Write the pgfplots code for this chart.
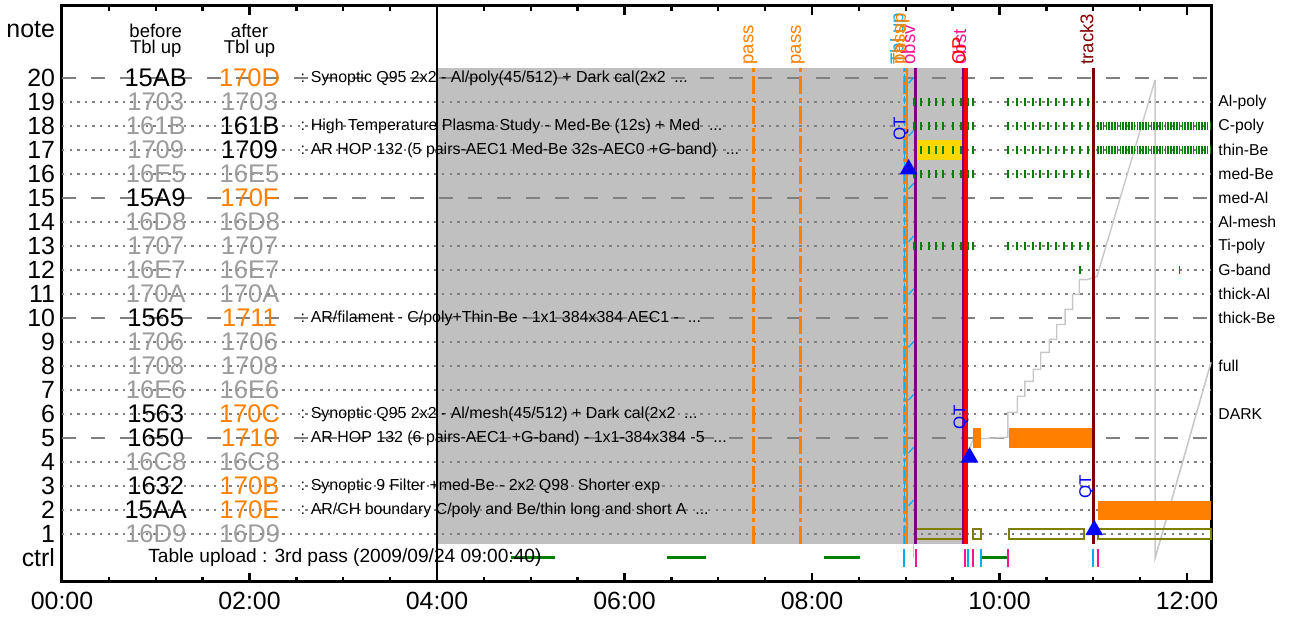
\documentclass[border=0pt]{standalone}
\usepackage{pgfplots}
\pgfplotsset{compat=1.18}
\usepackage{fontspec}
\setmainfont{Liberation Sans}
\definecolor{cOr}{RGB}{255,128,0}
\definecolor{cGr}{RGB}{155,155,155}
\definecolor{cGrid}{RGB}{128,128,128}
\definecolor{cShade}{RGB}{192,192,192}
\definecolor{cGreen}{RGB}{0,128,0}
\definecolor{cPink}{RGB}{255,20,147}
\definecolor{cPurple}{RGB}{128,0,128}
\definecolor{cMaroon}{RGB}{128,0,0}
\definecolor{cOlive}{RGB}{128,128,0}
\definecolor{cYellow}{RGB}{255,215,0}
\definecolor{cLight}{RGB}{200,200,200}
\definecolor{cBlue}{RGB}{0,0,255}

\tikzset{
  code/.style={font=\fontsize{12.8}{14}\selectfont, anchor=center, inner sep=0pt},
  desc/.style={font=\fontsize{8.0}{9}\selectfont, anchor=west, inner sep=0pt},
  rlab/.style={font=\fontsize{7.9}{9}\selectfont, anchor=west, inner sep=0pt},
  toplab/.style={font=\fontsize{9.3}{10}\selectfont, rotate=90, anchor=base west, inner sep=0pt},
  qt/.style={font=\fontsize{8.5}{10}\selectfont, rotate=90, anchor=center, inner sep=0pt, text=cBlue},
}
\pgfplotsset{gtick/.style={only marks, mark=|, mark size=1.8bp, cGreen, mark options={line width=0.8bp}}}

\begin{document}
\begin{tikzpicture}
\begin{axis}[
  scale only axis, width=574.5bp, height=288bp,
  xmin=0, xmax=12.256, ymin=-1, ymax=23,
  axis line style={line width=1.5bp},
  xtick={0,2,4,6,8,10,12},
  xticklabels={00:00,02:00,04:00,06:00,08:00,10:00,12:00},
  minor x tick num=3,
  tick align=inside, xtick pos=both,
  major tick length=4.5bp, minor tick length=2.5bp,
  every tick/.style={black, line width=1.2bp},
  ytick={0,1,2,3,4,5,6,7,8,9,10,11,12,13,14,15,16,17,18,19,20,22},
  yticklabels={ctrl,1,2,3,4,5,6,7,8,9,10,11,12,13,14,15,16,17,18,19,20,note},
  ytick style={draw=none},
  ticklabel style={font=\fontsize{12.5}{14}\selectfont},
  xticklabel style={yshift=-1.5bp},
  clip=false,
]
\coordinate (BL) at (rel axis cs:0,0);
\coordinate (TR) at (rel axis cs:1,1);

% shaded (past) region
\addplot[fill=cShade, draw=none] coordinates {(4,0.58) (9.635,0.58) (9.635,20.42) (4,20.42)} -- cycle;

% grid
\pgfplotsinvokeforeach{5,10,15,20}{
  \draw[cGrid, line width=0.75bp, dash pattern=on 7bp off 7.5bp] (axis cs:0,#1) -- (axis cs:12.256,#1);
}
\pgfplotsinvokeforeach{1,2,3,4,6,7,8,9,11,12,13,14,16,17,18,19}{
  \draw[cGrid, line width=0.75bp, dash pattern=on 1.2bp off 2.6bp] (axis cs:0,#1) -- (axis cs:12.256,#1);
}

% 04:00 divider
\addplot[black, line width=1bp] coordinates {(4,-1) (4,23)};

% light gray fill-level line
\addplot[cLight, line width=0.6bp] coordinates {(9.08,0.0) (9.08,0.58)};
\addplot[cLight, line width=0.7bp] coordinates {
(9.653,4.24) (9.717,4.95) (10.09,5.03) (10.09,6.07) (10.19,6.07) (10.19,6.74) (10.27,6.74)
(10.27,7.36) (10.36,7.36) (10.36,7.86) (10.44,7.86) (10.44,8.57) (10.53,8.57) (10.53,9.11)
(10.61,9.11) (10.61,9.73) (10.70,9.73) (10.70,10.36) (10.78,10.36) (10.78,10.98) (10.85,10.98)
(10.85,11.60) (10.94,11.60) (11.04,11.73) (11.66,19.92)};
\addplot[cLight, line width=0.8bp] coordinates {(11.66,19.92) (11.66,0.0) (12.256,8.15)};

% yellow block
\addplot[fill=cYellow, draw=none] coordinates {(9.11,16.6) (9.65,16.6) (9.65,17.4) (9.11,17.4)} -- cycle;

% orange blocks
\addplot[fill=cOr, draw=none] coordinates {(9.713,4.58) (9.799,4.58) (9.799,5.41) (9.713,5.41)} -- cycle;
\addplot[fill=cOr, draw=none] coordinates {(10.10,4.58) (11.01,4.58) (11.01,5.41) (10.10,5.41)} -- cycle;
\addplot[fill=cOr, draw=none] coordinates {(11.05,1.58) (12.256,1.58) (12.256,2.37) (11.05,2.37)} -- cycle;

% olive hollow blocks (row 1)
\addplot[draw=cOlive, line width=1bp] coordinates {(9.11,0.79) (9.62,0.79) (9.62,1.2) (9.11,1.2)} -- cycle;
\addplot[draw=cOlive, line width=1bp] coordinates {(9.713,0.79) (9.80,0.79) (9.80,1.2) (9.713,1.2)} -- cycle;
\addplot[draw=cOlive, line width=1bp] coordinates {(10.10,0.79) (10.90,0.79) (10.90,1.2) (10.10,1.2)} -- cycle;
\addplot[draw=cOlive, line width=1bp] coordinates {(11.05,0.79) (12.256,0.79) (12.256,1.2) (11.05,1.2)} -- cycle;

% green exposure ticks
\addplot[gtick] coordinates {
(9.088,19) (9.163,19) (9.248,19) (9.323,19) (9.397,19) (9.501,19) (9.589,19) (9.664,19) (9.717,19)
(10.091,19) (10.187,19) (10.272,19) (10.357,19) (10.432,19) (10.517,19) (10.603,19) (10.688,19) (10.773,19) (10.859,19) (10.944,19)
(9.088,18) (9.163,18) (9.248,18) (9.323,18) (9.397,18) (9.501,18) (9.589,18) (9.664,18) (9.717,18)
(10.091,18) (10.187,18) (10.272,18) (10.357,18) (10.432,18) (10.517,18) (10.603,18) (10.688,18) (10.773,18) (10.859,18) (10.944,18)
(9.163,17) (9.248,17) (9.323,17) (9.397,17) (9.501,17) (9.589,17) (9.717,17)
(10.091,17) (10.187,17) (10.272,17) (10.357,17) (10.432,17) (10.517,17) (10.603,17) (10.688,17) (10.773,17) (10.859,17) (10.944,17)
(9.088,16) (9.163,16) (9.248,16) (9.323,16) (9.397,16) (9.501,16) (9.589,16) (9.664,16) (9.717,16)
(10.091,16) (10.187,16) (10.272,16) (10.357,16) (10.432,16) (10.517,16) (10.603,16) (10.688,16) (10.773,16) (10.859,16) (10.944,16)
(9.088,13) (9.163,13) (9.248,13) (9.323,13) (9.397,13) (9.501,13) (9.589,13) (9.664,13) (9.717,13)
(10.091,13) (10.187,13) (10.272,13) (10.357,13) (10.432,13) (10.517,13) (10.603,13) (10.688,13) (10.773,13) (10.859,13) (10.944,13)
(10.859,12) (11.92,12)
};
\addplot[gtick] coordinates {
(11.05,18) (11.08,18) (11.11,18) (11.14,18) (11.17,18) (11.20,18) (11.23,18) (11.26,18) (11.29,18) (11.32,18)
(11.35,18) (11.38,18) (11.41,18) (11.44,18) (11.47,18) (11.50,18) (11.53,18) (11.56,18) (11.59,18) (11.62,18)
(11.65,18) (11.68,18) (11.71,18) (11.74,18) (11.77,18) (11.80,18) (11.83,18) (11.86,18) (11.89,18) (11.92,18)
(11.95,18) (11.98,18) (12.01,18) (12.04,18) (12.07,18) (12.10,18) (12.13,18) (12.16,18) (12.19,18) (12.22,18) (12.25,18)
(11.05,17) (11.08,17) (11.11,17) (11.14,17) (11.17,17) (11.20,17) (11.23,17) (11.26,17) (11.29,17) (11.32,17)
(11.35,17) (11.38,17) (11.41,17) (11.44,17) (11.47,17) (11.50,17) (11.53,17) (11.56,17) (11.59,17) (11.62,17)
(11.65,17) (11.68,17) (11.71,17) (11.74,17) (11.77,17) (11.80,17) (11.83,17) (11.86,17) (11.89,17) (11.92,17)
(11.95,17) (11.98,17) (12.01,17) (12.04,17) (12.07,17) (12.10,17) (12.13,17) (12.16,17) (12.19,17) (12.22,17) (12.25,17)
};

% ctrl row
\addplot[cGreen, line width=1.5bp] coordinates {(4.79,0) (5.26,0)};
\addplot[cGreen, line width=1.5bp] coordinates {(6.45,0) (6.87,0)};
\addplot[cGreen, line width=1.5bp] coordinates {(8.13,0) (8.51,0)};
\addplot[cGreen, line width=1.5bp] coordinates {(9.81,0) (10.09,0)};
\addplot[only marks, mark=|, mark size=4.3bp, cyan, mark options={line width=1bp}] coordinates {(8.981,0) (9.664,0) (9.803,0) (10.995,0)};
\addplot[only marks, mark=|, mark size=4.3bp, cPink, mark options={line width=1bp}] coordinates {(9.109,0) (9.632,0) (9.717,0) (10.091,0) (11.051,0)};

% vertical event lines
\addplot[cOr, line width=1.5bp, dash pattern=on 9bp off 2bp on 2bp off 2bp] coordinates {(7.374,0.58) (7.374,20.42)};
\addplot[cOr, line width=1.5bp, dash pattern=on 9bp off 2bp on 2bp off 2bp] coordinates {(7.88,0.58) (7.88,20.42)};
\addplot[cOr, line width=1bp] coordinates {(9.012,0.58) (9.012,20.42)};
\addplot[cOr, line width=2bp, dash pattern=on 9bp off 2bp on 2bp off 2bp] coordinates {(8.99,0.58) (8.99,20.42)};
\addplot[cyan, line width=0.8bp, dash pattern=on 4bp off 1.5bp] coordinates {(8.985,0.58) (8.985,20.42)};
\addplot[cyan, line width=0.6bp, unbounded coords=jump] coordinates {
(9.03,19.78) (9.085,20.02) (9.03,nan)
(9.03,17.58) (9.085,17.82) (9.03,nan)
(9.03,15.38) (9.085,15.62) (9.03,nan)
(9.03,13.18) (9.085,13.42) (9.03,nan)
(9.03,10.98) (9.085,11.22) (9.03,nan)
(9.03,8.78) (9.085,9.02) (9.03,nan)
(9.03,6.58) (9.085,6.82) (9.03,nan)
(9.03,4.38) (9.085,4.62) (9.03,nan)
(9.03,2.18) (9.085,2.42)};
\addplot[cPurple, line width=1.5bp] coordinates {(9.099,0.58) (9.099,20.42)};
\addplot[cPurple, line width=1bp] coordinates {(9.61,0.58) (9.61,20.42)};
\addplot[red, line width=2bp] coordinates {(9.64,0.58) (9.64,20.42)};
\addplot[cMaroon, line width=1.5bp] coordinates {(11.0,0.58) (11.0,20.42)};

% QT triangles
\addplot[only marks, mark=triangle*, mark size=4.7bp, cBlue] coordinates {(9.03,16.2) (9.68,4.19) (11.01,1.17)};
\node[qt] at (axis cs:8.95,17.88) {QT};
\node[qt] at (axis cs:9.59,5.86) {QT};
\node[qt] at (axis cs:10.93,2.97) {QT};

% top labels
\node[toplab, text=cOr] at (axis cs:7.374,20.55) {pass};
\node[toplab, text=cOr] at (axis cs:7.88,20.55) {pass};
\node[toplab, text=cyan] at (axis cs:8.975,20.55) {Tbl up};
\node[toplab, text=cOr] at (axis cs:8.99,20.55) {pass};
\node[toplab, text=cOr] at (axis cs:9.0,20.55) {Tbl up};
\node[toplab, text=cPink] at (axis cs:9.10,20.55) {obsv};
\node[toplab, text=cPink] at (axis cs:9.645,20.55) {obst};
\node[toplab, text=red] at (axis cs:9.632,20.55) {OP};
\node[toplab, text=cMaroon] at (axis cs:11.0,20.55) {track3};

% headers
\node[font=\fontsize{9.3}{10}\selectfont, inner sep=0pt] at (axis cs:1,21.95) {before};
\node[font=\fontsize{9.3}{10}\selectfont, inner sep=0pt] at (axis cs:1,21.2) {Tbl up};
\node[font=\fontsize{9.3}{10}\selectfont, inner sep=0pt] at (axis cs:2,21.95) {after};
\node[font=\fontsize{9.3}{10}\selectfont, inner sep=0pt] at (axis cs:2,21.2) {Tbl up};

% table codes
\node[code, text=black] at (axis cs:1,20) {15AB}; \node[code, text=cOr] at (axis cs:2,20) {170D};
\node[code, text=cGr] at (axis cs:1,19) {1703}; \node[code, text=cGr] at (axis cs:2,19) {1703};
\node[code, text=cGr] at (axis cs:1,18) {161B}; \node[code, text=black] at (axis cs:2,18) {161B};
\node[code, text=cGr] at (axis cs:1,17) {1709}; \node[code, text=black] at (axis cs:2,17) {1709};
\node[code, text=cGr] at (axis cs:1,16) {16E5}; \node[code, text=cGr] at (axis cs:2,16) {16E5};
\node[code, text=black] at (axis cs:1,15) {15A9}; \node[code, text=cOr] at (axis cs:2,15) {170F};
\node[code, text=cGr] at (axis cs:1,14) {16D8}; \node[code, text=cGr] at (axis cs:2,14) {16D8};
\node[code, text=cGr] at (axis cs:1,13) {1707}; \node[code, text=cGr] at (axis cs:2,13) {1707};
\node[code, text=cGr] at (axis cs:1,12) {16E7}; \node[code, text=cGr] at (axis cs:2,12) {16E7};
\node[code, text=cGr] at (axis cs:1,11) {170A}; \node[code, text=cGr] at (axis cs:2,11) {170A};
\node[code, text=black] at (axis cs:1,10) {1565}; \node[code, text=cOr] at (axis cs:2,10) {1711};
\node[code, text=cGr] at (axis cs:1,9) {1706}; \node[code, text=cGr] at (axis cs:2,9) {1706};
\node[code, text=cGr] at (axis cs:1,8) {1708}; \node[code, text=cGr] at (axis cs:2,8) {1708};
\node[code, text=cGr] at (axis cs:1,7) {16E6}; \node[code, text=cGr] at (axis cs:2,7) {16E6};
\node[code, text=black] at (axis cs:1,6) {1563}; \node[code, text=cOr] at (axis cs:2,6) {170C};
\node[code, text=black] at (axis cs:1,5) {1650}; \node[code, text=cOr] at (axis cs:2,5) {1710};
\node[code, text=cGr] at (axis cs:1,4) {16C8}; \node[code, text=cGr] at (axis cs:2,4) {16C8};
\node[code, text=black] at (axis cs:1,3) {1632}; \node[code, text=cOr] at (axis cs:2,3) {170B};
\node[code, text=black] at (axis cs:1,2) {15AA}; \node[code, text=cOr] at (axis cs:2,2) {170E};
\node[code, text=cGr] at (axis cs:1,1) {16D9}; \node[code, text=cGr] at (axis cs:2,1) {16D9};

% descriptions
\node[desc] at (axis cs:2.54,20) {: Synoptic Q95 2x2 - Al/poly(45/512) + Dark cal(2x2\ \ ...};
\node[desc] at (axis cs:2.54,18) {: High Temperature Plasma Study - Med-Be (12s) + Med\ \ ...};
\node[desc] at (axis cs:2.54,17) {: AR HOP 132 (5 pairs-AEC1 Med-Be 32s-AEC0 +G-band)\ \ ...};
\node[desc] at (axis cs:2.54,10) {: AR/filament - C/poly+Thin-Be - 1x1 384x384 AEC1 -\ \ ...};
\node[desc] at (axis cs:2.54,6) {: Synoptic Q95 2x2 - Al/mesh(45/512) + Dark cal(2x2\ \ ...};
\node[desc] at (axis cs:2.54,5) {: AR HOP 132 (6 pairs-AEC1 +G-band) - 1x1-384x384 -5\ \ ...};
\node[desc] at (axis cs:2.54,3) {: Synoptic 9 Filter +med-Be - 2x2 Q98\ \ Shorter exp};
\node[desc] at (axis cs:2.54,2) {: AR/CH boundary C/poly and Be/thin long and short A\ \ ...};
\node[font=\fontsize{9.6}{11}\selectfont, anchor=west, inner sep=0pt] at (axis cs:0.917,0) {Table upload : 3rd pass (2009/09/24 09:00:40)};

% right labels
\node[rlab] at ([xshift=3.5bp]axis cs:12.256,19) {Al-poly};
\node[rlab] at ([xshift=3.5bp]axis cs:12.256,18) {C-poly};
\node[rlab] at ([xshift=3.5bp]axis cs:12.256,17) {thin-Be};
\node[rlab] at ([xshift=3.5bp]axis cs:12.256,16) {med-Be};
\node[rlab] at ([xshift=3.5bp]axis cs:12.256,15) {med-Al};
\node[rlab] at ([xshift=3.5bp]axis cs:12.256,14) {Al-mesh};
\node[rlab] at ([xshift=3.5bp]axis cs:12.256,13) {Ti-poly};
\node[rlab] at ([xshift=3.5bp]axis cs:12.256,12) {G-band};
\node[rlab] at ([xshift=3.5bp]axis cs:12.256,11) {thick-Al};
\node[rlab] at ([xshift=3.5bp]axis cs:12.256,10) {thick-Be};
\node[rlab] at ([xshift=3.5bp]axis cs:12.256,8) {full};
\node[rlab] at ([xshift=3.5bp]axis cs:12.256,6) {DARK};
\end{axis}
\pgfresetboundingbox
\path (BL) ++(-31bp,-21.5bp) rectangle ([xshift=41.5bp,yshift=3bp]TR);
\end{tikzpicture}
\end{document}
